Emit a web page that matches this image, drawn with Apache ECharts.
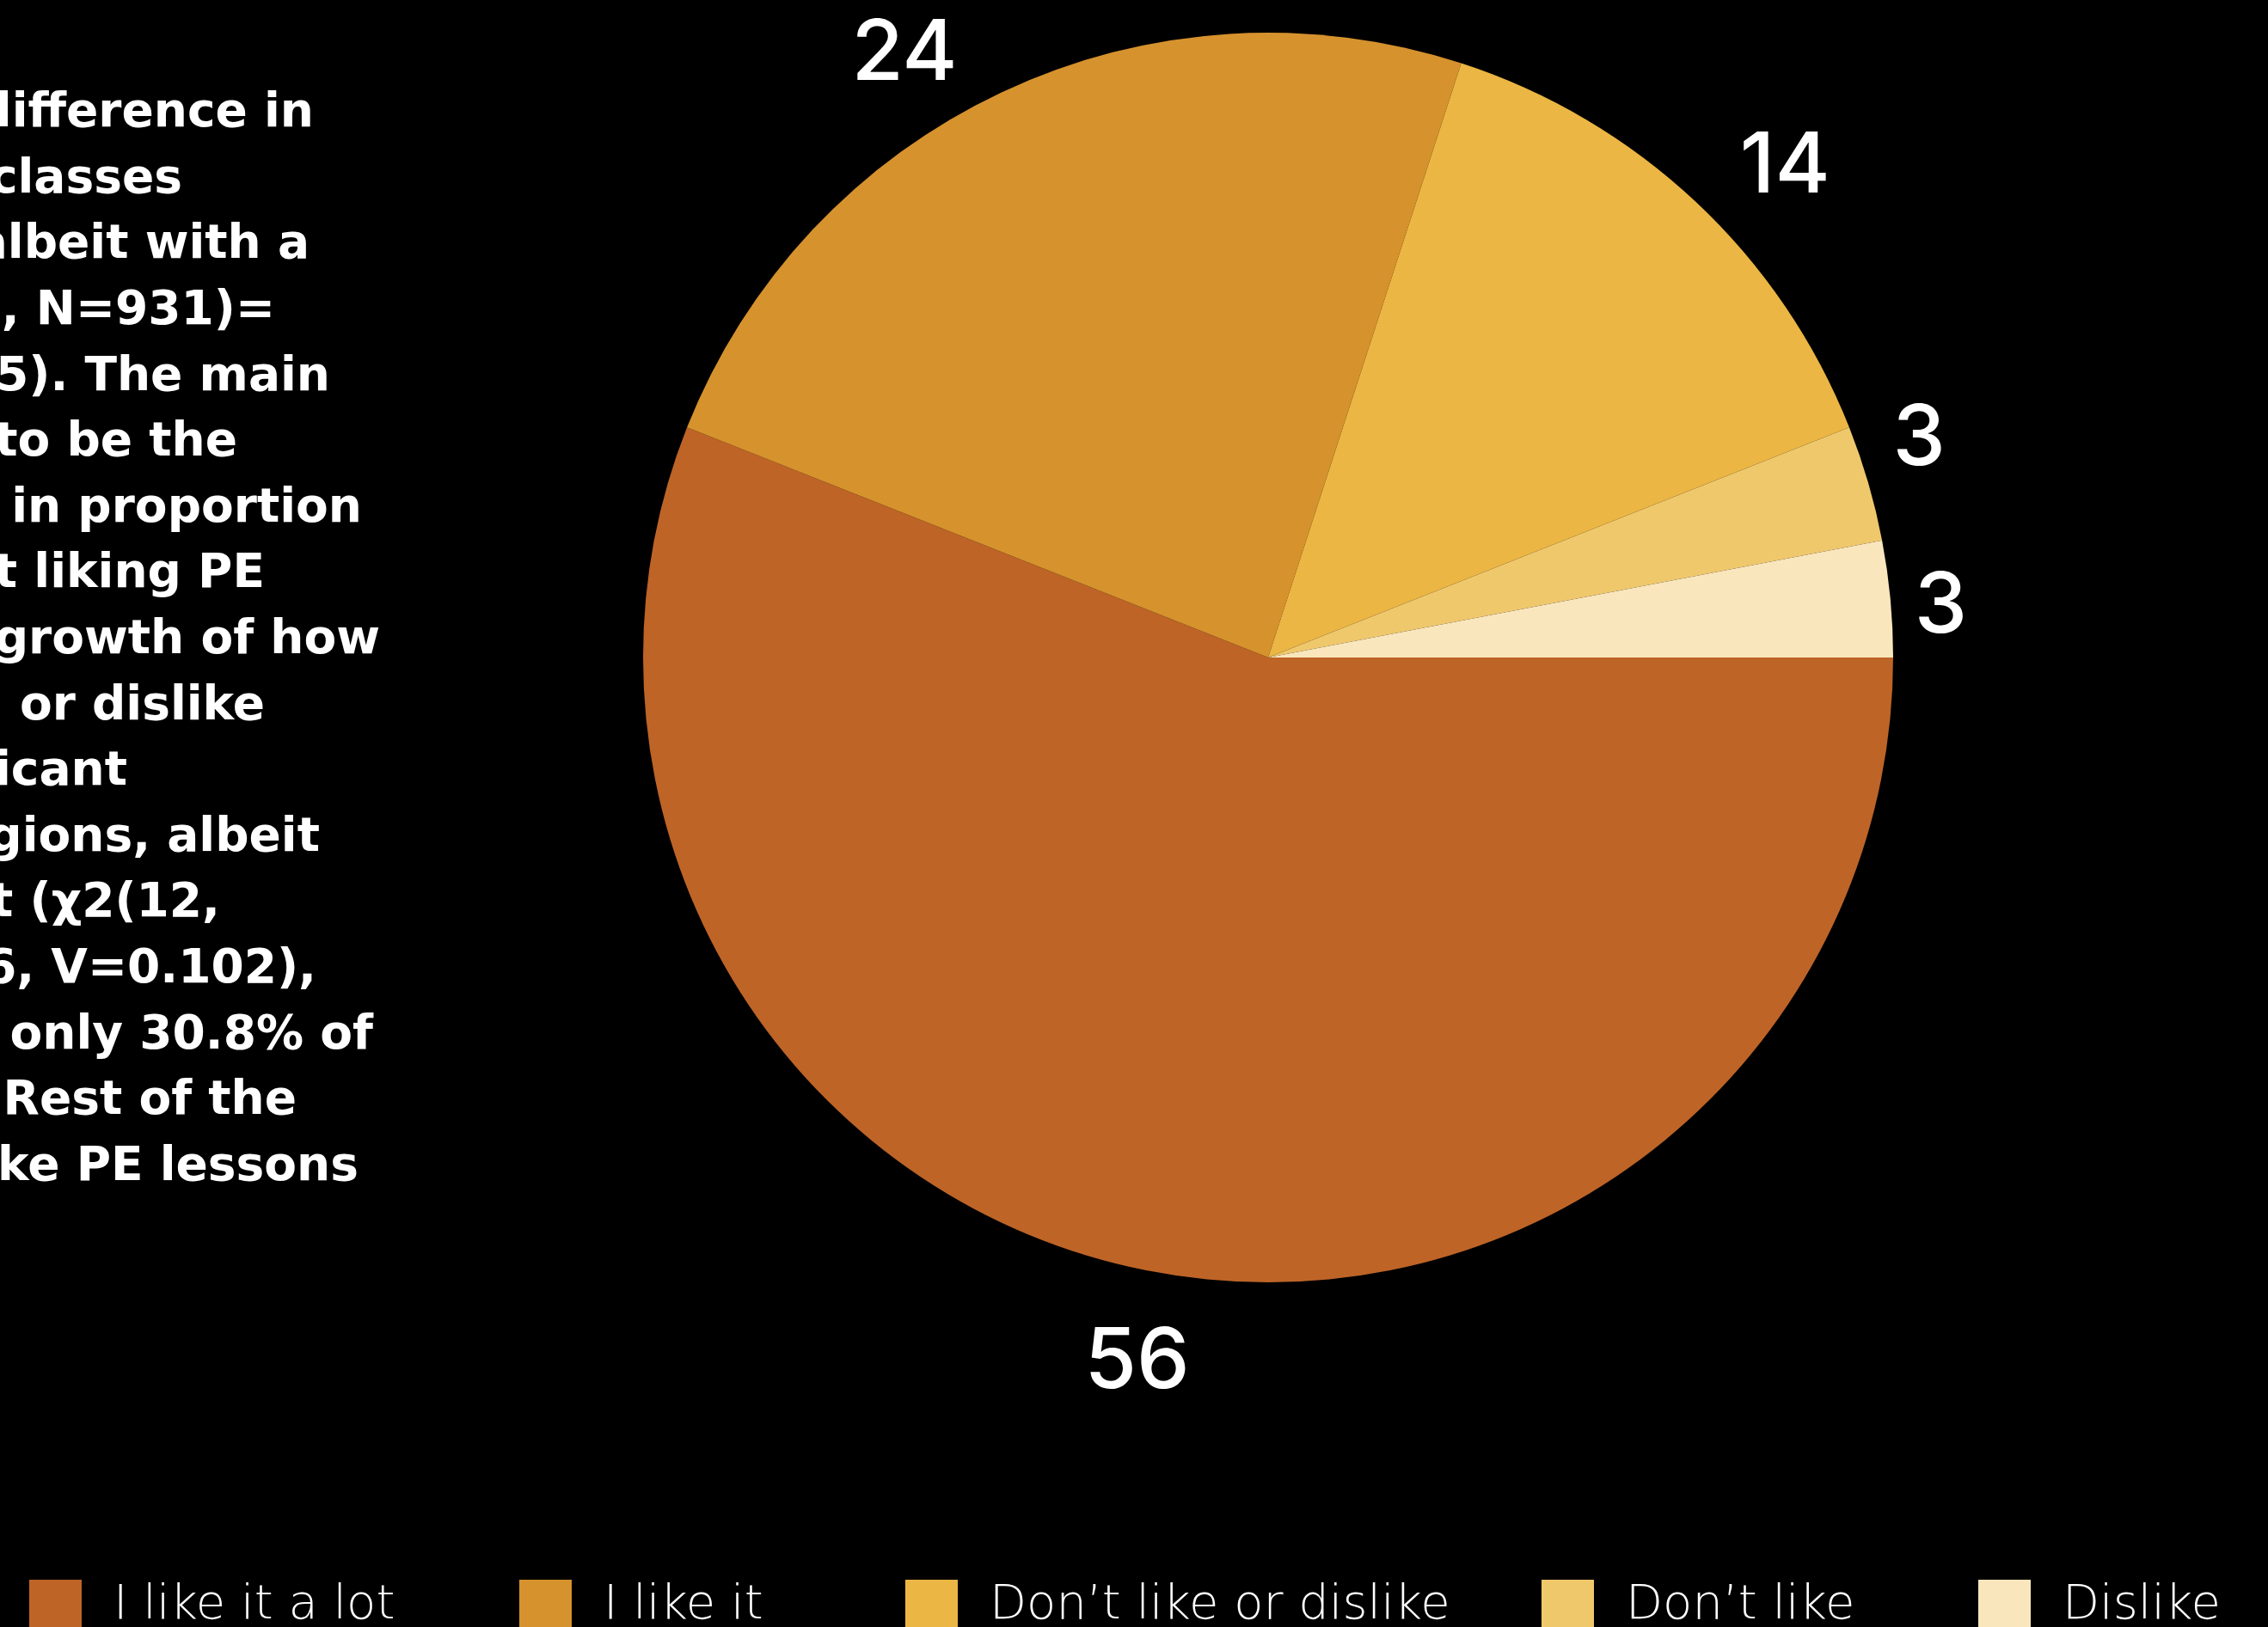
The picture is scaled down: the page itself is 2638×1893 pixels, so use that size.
<!DOCTYPE html>
<html>
<head>
<meta charset="utf-8">
<title>PE lessons</title>
<script src="https://cdn.jsdelivr.net/npm/echarts@6/dist/echarts.min.js"></script>
<style>
  html, body { margin: 0; padding: 0; background: #000; }
  #chart { width: 2638px; height: 1893px; }
</style>
</head>
<body>
<div id="chart"></div>
<script>
// Answer categories and their shares (%)
const categories = ['I like it a lot', 'I like it', 'Don’t like or dislike', 'Don’t like', 'Dislike'];
const shares = [56, 24, 14, 3, 3];
const sliceColors = ['#BE6427', '#D6922D', '#EBB643', '#F0C86C', '#FAE6BD'];

// Commentary paragraph, one entry per visible line
const noteLines = [
  'difference in',
  'classes',
  'albeit with a',
  '4, N=931)=',
  '5). The main',
  'to be the',
  'in proportion',
  't liking PE',
  'growth of how',
  'or dislike',
  'icant',
  'gions, albeit',
  't (χ2(12,',
  '06, V=0.102),',
  'only 30.8% of',
  'Rest of the',
  'ke PE lessons'
];

// Layout
const noteRightEdges = [365, 212, 360, 320, 384, 276, 421, 308, 442, 308, 148, 372, 256, 368, 434, 345, 417];
const NOTE_TOP = 133, NOTE_STEP = 76.6;
const CX = 1475, CY = 765, R = 727;
const LABEL_FONT = 98, LABEL_GAP = 40, TOP_MARGIN = 23;
// small per-label nudges [dx, dy] applied after the radial placement
const labelNudge = [[0, 22], [3, 5], [34, 34], [-17, -29], [-15, 17]];
const legendLefts = [34, 604, 1053, 1793, 2301];

const total = shares.reduce((a, b) => a + b, 0);

const chart = echarts.init(document.getElementById('chart'), null, { renderer: 'canvas' });

const option = {
  backgroundColor: '#000',
  animation: false,
  legend: categories.map((name, i) => ({
    data: [name],
    left: legendLefts[i],
    top: 1838,
    padding: 0,
    itemGap: 0,
    itemWidth: 61,
    itemHeight: 61,
    icon: 'rect',
    selectedMode: false,
    textStyle: {
      color: '#fff',
      fontSize: 56,
      fontFamily: 'DejaVu Sans',
      fontWeight: 200,
      padding: [0, 0, 0, 32]
    }
  })),
  graphic: noteLines.map((line, i) => ({
    type: 'text',
    x: noteRightEdges[i],
    y: NOTE_TOP + i * NOTE_STEP,
    silent: true,
    style: {
      text: line,
      fill: '#fff',
      font: 'bold 55px "DejaVu Sans"',
      align: 'right',
      verticalAlign: 'middle'
    }
  })),
  series: [{
    type: 'pie',
    center: [CX, CY],
    radius: R,
    startAngle: 0,
    clockwise: true,
    avoidLabelOverlap: false,
    itemStyle: { borderWidth: 0 },
    label: {
      show: true,
      position: 'outside',
      formatter: '{c}',
      color: '#fff',
      fontFamily: 'Inter',
      fontWeight: 500,
      fontSize: LABEL_FONT
    },
    labelLine: { show: false },
    emphasis: { disabled: true },
    // Centre each value label just beyond the rim of its slice, kept inside the canvas
    labelLayout: function (params) {
      const i = params.dataIndex;
      let before = 0;
      for (let k = 0; k < i; k++) before += shares[k];
      const theta = (before + shares[i] / 2) / total * Math.PI * 2;
      const c = Math.cos(theta), s = Math.sin(theta);
      const w = params.labelRect.width;
      const h = LABEL_FONT * 0.72;
      const d = R + LABEL_GAP + Math.abs(c) * w / 2 + Math.abs(s) * h / 2;
      let x = CX + d * c;
      let y = CY + d * s;
      const minY = TOP_MARGIN + h / 2;
      if (y < minY) {
        y = minY;
        const dy = y - CY;
        x = CX + Math.sign(c) * Math.sqrt(Math.max(d * d - dy * dy, 0));
      }
      const n = labelNudge[i] || [0, 0];
      return { x: x + n[0], y: y + n[1], align: 'center', verticalAlign: 'middle' };
    },
    data: categories.map((name, i) => ({
      name: name,
      value: shares[i],
      itemStyle: { color: sliceColors[i] }
    }))
  }]
};

chart.setOption(option);
</script>
</body>
</html>
